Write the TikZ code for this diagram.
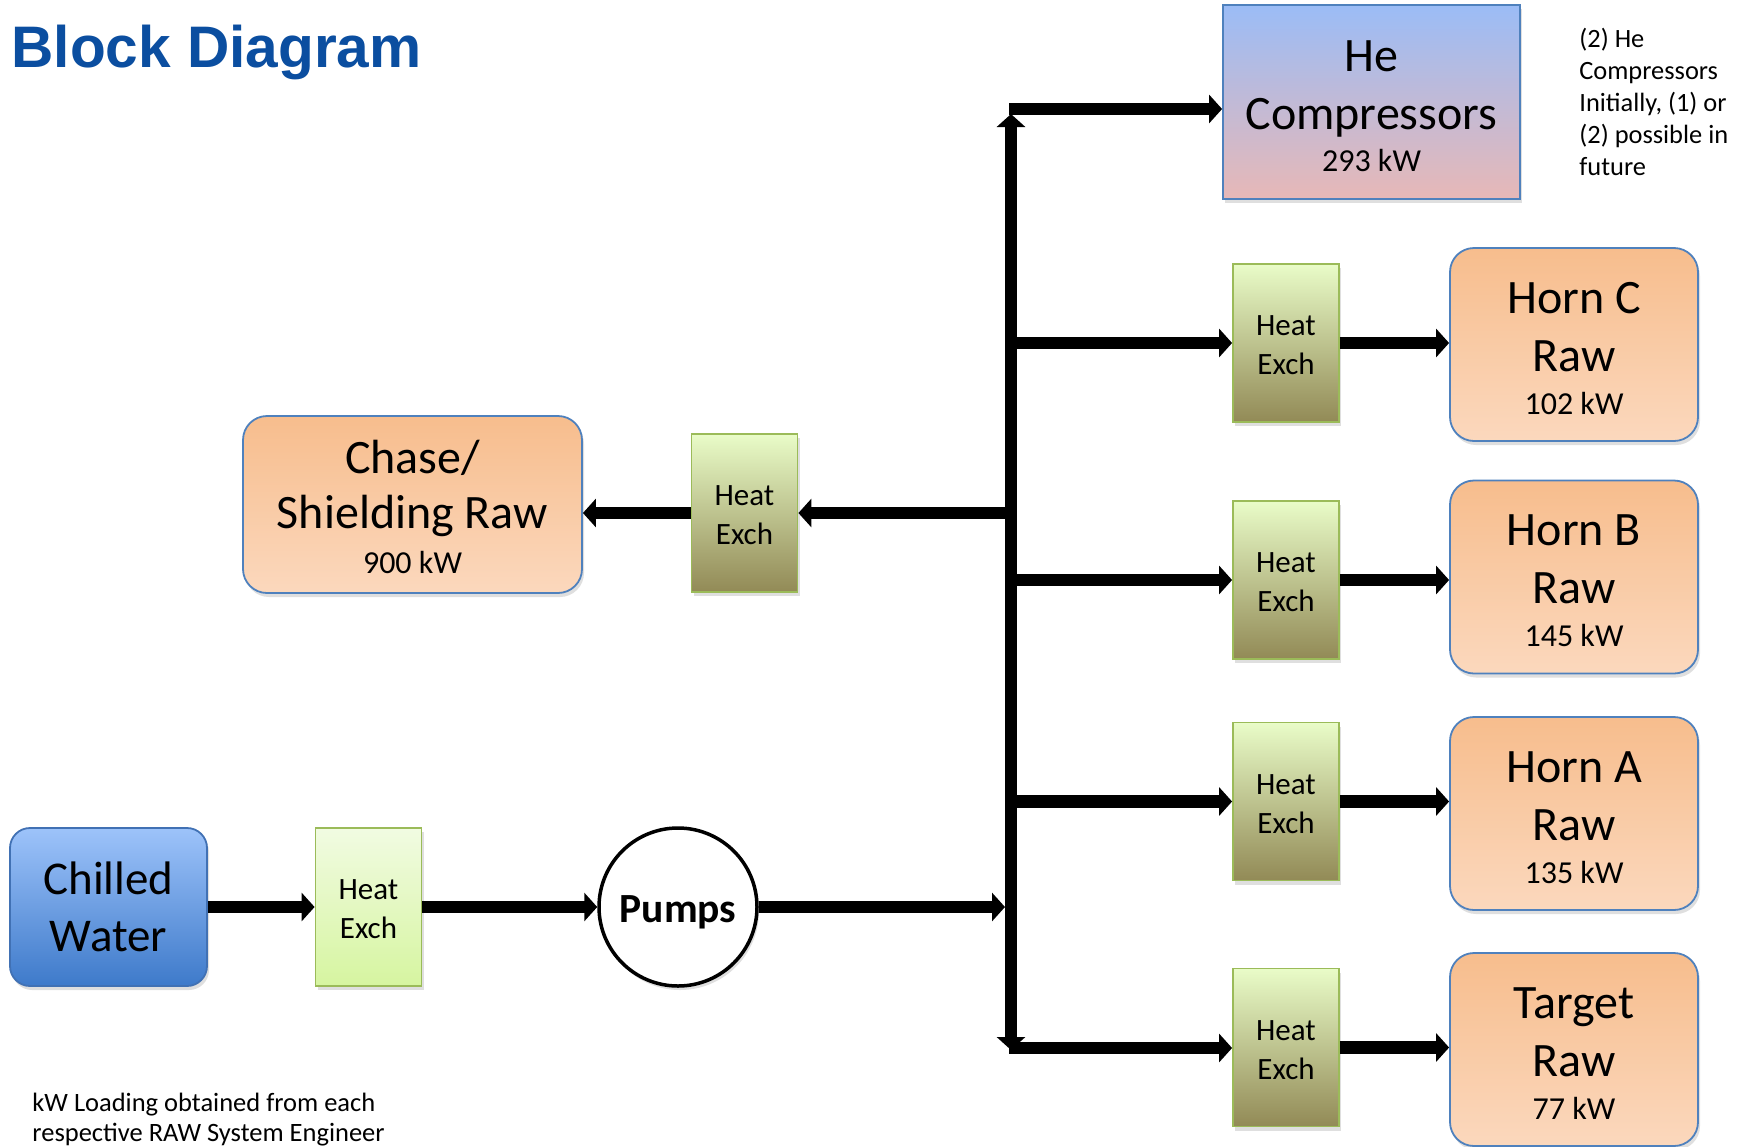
\documentclass[tikz,border=0pt]{standalone}
\usepackage{fontspec}
\setmainfont{Carlito}
\newfontfamily\titlefont{Liberation Sans}
\usetikzlibrary{arrows.meta,shadows}
\usepackage{xcolor}

\definecolor{titleblue}{RGB}{11,78,160}
\definecolor{rawtop}{RGB}{247,189,141}
\definecolor{rawbot}{RGB}{251,216,189}
\definecolor{rawedge}{RGB}{79,129,189}
\definecolor{cwtop}{RGB}{157,195,250}
\definecolor{cwbot}{RGB}{62,122,202}
\definecolor{cwedge}{RGB}{65,113,180}
\definecolor{hetop}{RGB}{155,188,246}
\definecolor{hebot}{RGB}{231,184,183}
\definecolor{hxtop}{RGB}{233,252,200}
\definecolor{hxbot}{RGB}{146,138,86}
\definecolor{hxcoldtop}{RGB}{241,251,226}
\definecolor{hxcoldbot}{RGB}{214,245,160}
\definecolor{hxedge}{RGB}{155,187,89}

\newcommand{\kwfont}{\fontsize{16}{19}\selectfont}
\newcommand{\topgap}{\rule{0pt}{19.5pt}}
\newcommand{\hxlabel}{\rule{0pt}{12.5pt}Heat\\Exch}

\begin{document}
\begin{tikzpicture}[x=0.5pt,y=-0.5pt]

\tikzset{shade/.style = {drop shadow={shadow xshift=1pt,shadow yshift=-2pt,opacity=0.25}}}
\tikzset{raw/.style = {shape=rectangle,rounded corners=12pt,draw=rawedge,line width=0.9pt,top color=rawtop,bottom color=rawbot,inner sep=0pt,align=center,font=\fontsize{24}{29}\selectfont,shade}}
\tikzset{hx/.style = {shape=rectangle,draw=hxedge,line width=0.9pt,top color=hxtop,bottom color=hxbot,minimum width=53pt,minimum height=79pt,inner sep=0pt,align=center,font=\fontsize{15.5}{19.5}\selectfont,shade}}
\tikzset{hxcold/.style = {hx,top color=hxcoldtop,bottom color=hxcoldbot}}
\tikzset{pipe/.style = {line width=6.2pt,-{Triangle[length=6.5pt,width=14pt]}}}

\path[use as bounding box,fill=white] (0,0) rectangle (1745,1146);

\node[anchor=base west,inner sep=0pt,text=titleblue,font=\titlefont\bfseries\fontsize{29.3}{34}\selectfont] (title) at (11,67) {Block Diagram};

\node[shape=rectangle,draw=rawedge,line width=0.9pt,top color=hetop,bottom color=hebot,minimum width=148.5pt,minimum height=97pt,inner sep=0pt,align=center,font=\fontsize{24}{29}\selectfont,shade] (he) at (1371.5,102) {\topgap He\\Compressors\\[-8pt]{\kwfont 293 kW}};
\node[anchor=north west,align=left,inner sep=0pt,font=\fontsize{13.2}{16}\selectfont] (note) at (1579,28) {(2) He\\Compressors\\Initially, (1) or\\(2) possible in\\future};

\node[raw,minimum width=124pt,minimum height=96.5pt] (hornC) at (1574,344.5) {\topgap Horn C\\Raw\\[-7.5pt]{\kwfont 102 kW}};
\node[raw,minimum width=124pt,minimum height=96.5pt] (hornB) at (1574,577) {\topgap Horn B\\Raw\\[-7.5pt]{\kwfont 145 kW}};
\node[raw,minimum width=124pt,minimum height=96.5pt] (hornA) at (1574,813.5) {\topgap Horn A\\Raw\\[-7.5pt]{\kwfont 135 kW}};
\node[raw,minimum width=124pt,minimum height=96.5pt] (target) at (1574,1049.5) {\topgap Target\\Raw\\[-7.5pt]{\kwfont 77 kW}};

\node[hx] (hxC) at (1286,343) {\hxlabel};
\node[hx] (hxB) at (1286,580) {\hxlabel};
\node[hx] (hxA) at (1286,801.5) {\hxlabel};
\node[hx] (hxT) at (1286,1047.5) {\hxlabel};
\node[hx] (hxM) at (744.5,513) {\hxlabel};
\node[hxcold] (hxL) at (368.5,907) {\hxlabel};

\node[raw,minimum width=169.5pt,minimum height=88.5pt] (chase) at (412.5,504.5) {\topgap Chase/\\[-1.5pt]Shielding Raw\\[-6.5pt]{\kwfont 900 kW}};
\node[raw,rounded corners=10pt,draw=cwedge,top color=cwtop,bottom color=cwbot,minimum width=98.5pt,minimum height=79pt,font=\fontsize{23.5}{28.5}\selectfont] (cw) at (108.5,907) {Chilled\\Water};
\node[shape=circle,draw,line width=1.75pt,fill=white,minimum size=79pt,inner sep=0pt,font=\fontsize{20.75}{24}\selectfont\bfseries,shade] (pumps) at (678,907) {\rule{0pt}{19pt}Pumps};

\coordinate (jn) at (1011,907);
\coordinate (bustop) at (1011,114);
\coordinate (busbot) at (1011,1050);
\coordinate (tHe) at (1009,109);
\coordinate (tT) at (1009,1048);

%edges
\draw[pipe] (cw) to (hxL);
\draw[pipe] (hxL) to (pumps);
\draw[pipe,shorten >=3pt] (pumps) to (jn);
\draw[pipe] (jn) to (bustop);
\draw[pipe] (jn) to (busbot);
\draw[pipe] (tHe) to (tHe -| he.west);
\draw[pipe] (hxC -| jn) to (hxC);
\draw[pipe] (hxB -| jn) to (hxB);
\draw[pipe] (hxA -| jn) to (hxA);
\draw[pipe] (tT) to (tT -| hxT.west);
\draw[pipe] (hxM -| jn) to (hxM);
\draw[pipe] (hxM) to (hxM -| chase.east);
\draw[pipe] (hxC) to (hxC -| hornC.west);
\draw[pipe] (hxB) to (hxB -| hornB.west);
\draw[pipe] (hxA) to (hxA -| hornA.west);
\draw[pipe] (hxT) to (hxT -| target.west);

\node[anchor=north west,align=left,inner sep=0pt,font=\fontsize{13.25}{15}\selectfont] (foot) at (32,1093) {kW Loading obtained from each\\respective RAW System Engineer};
\end{tikzpicture}
\end{document}
